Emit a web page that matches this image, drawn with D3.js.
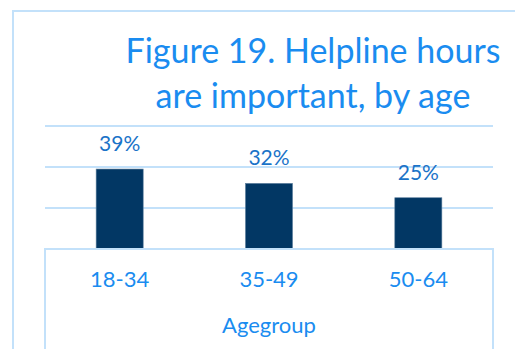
<!DOCTYPE html>
<html>
<head>
<meta charset="utf-8">
<script src="https://cdn.jsdelivr.net/npm/d3@7"></script>
<style>
  html, body { margin: 0; padding: 0; background: #fff; }
  svg { display: block; font-family: Lato, 'Open Sans', sans-serif; }
</style>
</head>
<body>
<div id="chart"></div>
<script>
// chart data
const ageGroups = ['18-34', '35-49', '50-64'];
const shares = [39, 32, 25];
const gridTicks = [0, 20, 40, 60];
const titleLines = ['Figure 19. Helpline hours', 'are important, by age'];
const axisTitle = 'Agegroup';

const width = 515, height = 349;
const margin = {top: 126, left: 45, right: 22, bottom: 100};
const plotW = width - margin.left - margin.right;
const plotH = height - margin.top - margin.bottom;

const svg = d3.select('#chart')
  .append('svg')
  .attr('width', width)
  .attr('height', height);

// outer frame (left + top edges only visible)
svg.append('path')
  .attr('d', `M13,${height} L13,11 L${width},11`)
  .attr('fill', 'none')
  .attr('stroke', '#c3e1fa')
  .attr('stroke-width', 2);

// title
svg.append('g')
  .selectAll('text')
  .data(titleLines)
  .enter()
  .append('text')
  .attr('x', 313)
  .attr('y', (d, i) => 63 + i * 45)
  .attr('text-anchor', 'middle')
  .style('font-size', '34px')
  .style('fill', '#1a8cf0')
  .text(d => d);

const g = svg.append('g')
  .attr('transform', `translate(${margin.left},${margin.top})`);

const x = d3.scaleBand()
  .domain(ageGroups)
  .range([0, plotW])
  .padding(0);

const y = d3.scaleLinear()
  .domain([0, 60])
  .range([plotH, 0]);

// gridlines
g.selectAll('.grid')
  .data(gridTicks.filter(t => t > 0))
  .enter()
  .append('line')
  .attr('x1', 0)
  .attr('x2', plotW)
  .attr('y1', d => y(d))
  .attr('y2', d => y(d))
  .attr('stroke', '#c3e1fa')
  .attr('stroke-width', 2);

// bars
const barW = x.bandwidth() * 0.315;
const data = ageGroups.map((k, i) => ({k, v: shares[i]}));

g.selectAll('.bar')
  .data(data)
  .enter()
  .append('rect')
  .attr('x', d => x(d.k) + (x.bandwidth() - barW) / 2)
  .attr('y', d => y(d.v))
  .attr('width', barW)
  .attr('height', d => plotH - y(d.v))
  .attr('fill', '#023764')
  .attr('stroke', '#5b7d9c')
  .attr('stroke-width', 0.6);

// value labels
g.selectAll('.lbl')
  .data(data)
  .enter()
  .append('text')
  .attr('x', d => x(d.k) + x.bandwidth() / 2)
  .attr('y', d => y(d.v) - 18)
  .attr('text-anchor', 'middle')
  .style('font-size', '21px')
  .style('fill', '#1a73c8')
  .text(d => d.v + '%');

// axis box below the baseline
g.append('path')
  .attr('d', `M0,${height - margin.top} L0,${plotH} L${plotW},${plotH} L${plotW},${height - margin.top}`)
  .attr('fill', 'none')
  .attr('stroke', '#c3e1fa')
  .attr('stroke-width', 2);

// category labels
const xAxis = g.append('g')
  .attr('transform', `translate(0,${plotH})`)
  .call(d3.axisBottom(x).tickSize(0).tickPadding(0));
xAxis.select('.domain').remove();
xAxis.selectAll('text')
  .attr('dy', null)
  .attr('y', 38)
  .style('font-family', 'Lato, sans-serif')
  .style('font-size', '22px')
  .style('fill', '#1a8cf0');

// axis title
g.append('text')
  .attr('x', plotW / 2)
  .attr('y', plotH + 84)
  .attr('text-anchor', 'middle')
  .style('font-size', '22px')
  .style('fill', '#1a8cf0')
  .text(axisTitle);
</script>
</body>
</html>
